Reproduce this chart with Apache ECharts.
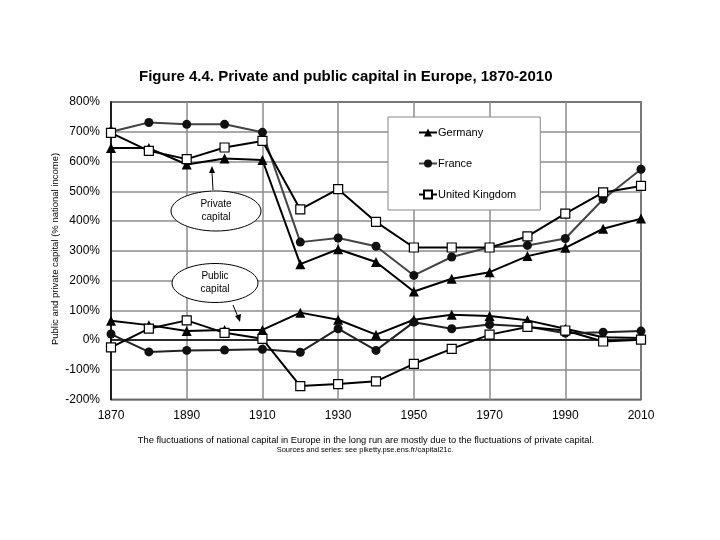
<!DOCTYPE html>
<html>
<head>
<meta charset="utf-8">
<script src="https://cdn.jsdelivr.net/npm/echarts@6/dist/echarts.min.js"></script>
<style>html,body{margin:0;padding:0;background:#fff}#c{width:720px;height:540px}</style>
</head>
<body>
<div id="c"></div>
<script>
const years = ['1870','1880','1890','1900','1910','1920','1930','1940','1950','1960','1970','1980','1990','2000','2010'];
const yTicks = [-200, 800, 100];
const germanyPrivate = [645, 645, 590, 610, 605, 255, 305, 262, 163, 206, 228, 282, 310, 374, 408];
const francePrivate  = [700, 731, 725, 725, 698, 329, 343, 315, 217, 279, 312, 318, 341, 473, 574];
const ukPrivate      = [696, 636, 608, 647, 669, 439, 507, 397, 311, 311, 311, 348, 425, 496, 518];
const germanyPublic  = [65, 50, 30, 34, 34, 92, 68, 18, 68, 85, 81, 66, 38, 9, 7];
const francePublic   = [20, -40, -35, -34, -31, -41, 38, -35, 60, 38, 52, 45, 23, 26, 30];
const ukPublic       = [-25, 38, 66, 24, 4, -155, -148, -139, -80, -30, 18, 44, 32, -5, 1];

const FONT = 'Liberation Sans, Arial, sans-serif';
const chart = echarts.init(document.getElementById('c'), null, {renderer: 'canvas'});

function mk(name, data, symbol, color, lineColor, fill) {
  return {
    name: name, type: 'line', data: data, symbol: symbol,
    symbolSize: symbol === 'circle' ? 9 : (symbol === 'rect' ? 9 : 10),
    lineStyle: {color: lineColor, width: 2},
    itemStyle: {color: fill, borderColor: color, borderWidth: symbol === 'rect' ? 1.2 : 0},
    emphasis: {disabled: true}, animation: false, z: 3
  };
}

const series = [
  mk('Germany', germanyPrivate, 'triangle', '#000', '#000', '#000'),
  mk('France', francePrivate, 'circle', '#111', '#444', '#111'),
  mk('United Kingdom', ukPrivate, 'rect', '#000', '#000', '#fff'),
  mk('Germany', germanyPublic, 'triangle', '#000', '#000', '#000'),
  mk('France', francePublic, 'circle', '#111', '#222', '#111'),
  mk('United Kingdom', ukPublic, 'rect', '#000', '#000', '#fff')
];

chart.setOption({
  backgroundColor: '#fff',
  animation: false,
  textStyle: {fontFamily: FONT},
  title: {
    text: 'Figure 4.4. Private and public capital in Europe, 1870-2010',
    left: 139, top: 69, padding: 0,
    textStyle: {fontSize: 15, fontWeight: 'bold', color: '#000', fontFamily: FONT}
  },
  grid: {left: 111, right: 79, top: 102, bottom: 140.5, show: true, borderColor: '#000', borderWidth: 1.5, backgroundColor: 'transparent'},
  legend: {
    left: 388, top: 117, orient: 'vertical',
    padding: [10, 24, 10, 30], itemGap: 20,
    itemWidth: 18, itemHeight: 10,
    backgroundColor: '#fff', borderColor: '#888', borderWidth: 1,
    textStyle: {fontSize: 11, color: '#000', fontFamily: FONT, padding: [0, 0, 0, -4]},
    data: ['Germany', 'France', 'United Kingdom']
  },
  xAxis: {
    type: 'category', data: years, boundaryGap: false,
    axisLine: {lineStyle: {color: '#000', width: 1.5}},
    axisTick: {show: false},
    axisLabel: {interval: 1, fontSize: 12, color: '#000', margin: 10, fontFamily: FONT},
    splitLine: {show: true, interval: 1, lineStyle: {color: '#8c8c8c', width: 1.5}}
  },
  yAxis: {
    type: 'value', min: yTicks[0], max: yTicks[1], interval: yTicks[2],
    axisLine: {show: true, lineStyle: {color: '#000', width: 1.5}},
    axisTick: {show: false},
    axisLabel: {formatter: '{value}%', fontSize: 12, color: '#000', margin: 11, fontFamily: FONT},
    splitLine: {show: true, lineStyle: {color: '#8c8c8c', width: 1.5}}
  },
  series: series,
  graphic: [
    {type: 'text', x: 55, y: 249, rotation: Math.PI / 2, style: {text: 'Public and private capital (% national income)', fontSize: 9.5, fontFamily: FONT, fill: '#000', align: 'center', verticalAlign: 'middle'}},
    {type: 'ellipse', shape: {cx: 216, cy: 211, rx: 45, ry: 20}, style: {fill: '#fff', stroke: '#000', lineWidth: 1}, z: 10},
    {type: 'text', x: 216, y: 211, style: {text: 'Private\ncapital', fontSize: 10, fontFamily: FONT, fill: '#000', align: 'center', verticalAlign: 'middle', lineHeight: 13}, z: 11},
    {type: 'line', shape: {x1: 213, y1: 190, x2: 212, y2: 172}, style: {stroke: '#000', lineWidth: 1}, z: 10},
    {type: 'polygon', shape: {points: [[212, 166], [209, 173], [215, 173]]}, style: {fill: '#000'}, z: 10},
    {type: 'ellipse', shape: {cx: 215, cy: 283, rx: 43, ry: 19.5}, style: {fill: '#fff', stroke: '#000', lineWidth: 1}, z: 10},
    {type: 'text', x: 215, y: 283, style: {text: 'Public\ncapital', fontSize: 10, fontFamily: FONT, fill: '#000', align: 'center', verticalAlign: 'middle', lineHeight: 13}, z: 11},
    {type: 'line', shape: {x1: 233, y1: 305, x2: 238, y2: 317}, style: {stroke: '#000', lineWidth: 1}, z: 10},
    {type: 'polygon', shape: {points: [[240, 322], [235, 316], [241, 314]]}, style: {fill: '#000'}, z: 10},
    {type: 'text', x: 366, y: 440, style: {text: 'The fluctuations of national capital in Europe in the long run are mostly due to the fluctuations of private capital.', fontSize: 9.3, fontFamily: FONT, fill: '#000', align: 'center', verticalAlign: 'middle'}},
    {type: 'text', x: 365, y: 450, style: {text: 'Sources and series: see piketty.pse.ens.fr/capital21c.', fontSize: 7.5, fontFamily: FONT, fill: '#000', align: 'center', verticalAlign: 'middle'}}
  ]
});
</script>
</body>
</html>
